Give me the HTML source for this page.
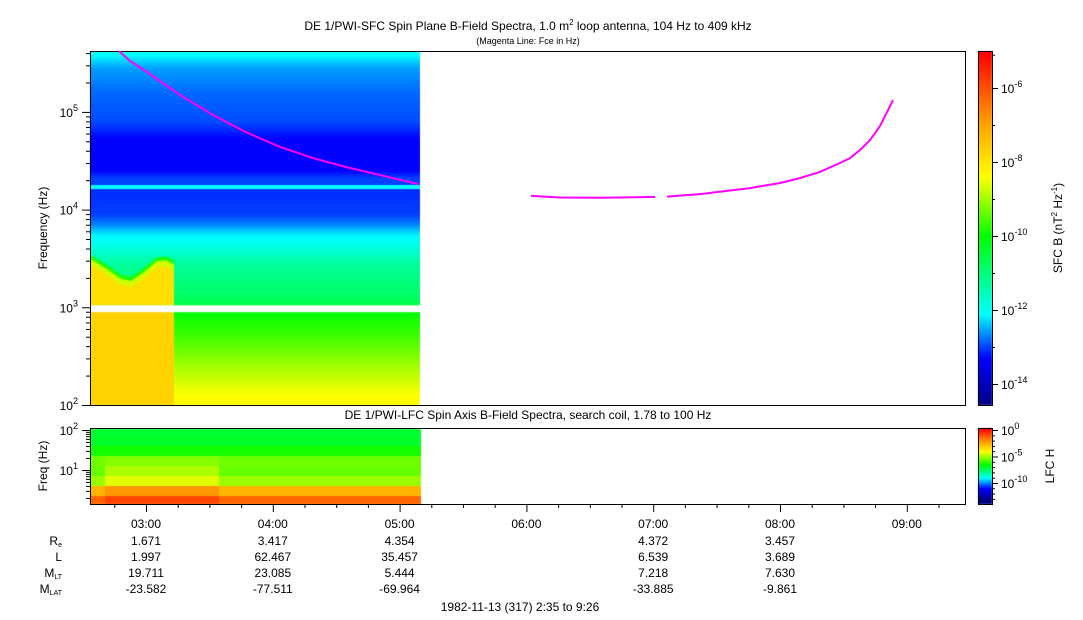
<!DOCTYPE html>
<html><head><meta charset="utf-8"><style>
body{margin:0;background:#fff;width:1083px;height:620px;overflow:hidden;font-family:"Liberation Sans",sans-serif}
#wrap{position:relative;width:1083px;height:620px}
canvas,svg{position:absolute;left:0;top:0}
svg text{font-family:"Liberation Sans",sans-serif;font-size:12px;fill:#000}
</style></head><body>
<div id="wrap">
<canvas id="cv" width="1083" height="620"></canvas>
<svg id="sv" width="1083" height="620">
<text x="528" y="30" text-anchor="middle">DE 1/PWI-SFC  Spin Plane B-Field Spectra, 1.0 m<tspan font-size="8" dy="-5">2</tspan><tspan dy="5"> loop antenna, 104 Hz to 409 kHz</tspan></text>
<text x="528" y="44" text-anchor="middle" style="font-size:9px">(Magenta Line: Fce in Hz)</text>
<text x="528" y="419" text-anchor="middle">DE 1/PWI-LFC  Spin Axis B-Field Spectra, search coil, 1.78 to 100 Hz</text>
<text transform="translate(47,228) rotate(-90)" text-anchor="middle">Frequency (Hz)</text>
<text transform="translate(47,466) rotate(-90)" text-anchor="middle">Freq (Hz)</text>
<text transform="translate(1062,228) rotate(-90)" text-anchor="middle">SFC B (nT<tspan font-size="8" dy="-5">2</tspan><tspan dy="5"> Hz</tspan><tspan font-size="8" dy="-5">-1</tspan><tspan dy="5">)</tspan></text>
<text transform="translate(1054,466) rotate(-90)" text-anchor="middle">LFC H</text>
<text x="520" y="611" text-anchor="middle">1982-11-13 (317) 2:35 to 9:26</text>
<g id="g"></g>
</svg>
</div>
<script>
// ---- data ----
const hourTicks=[3,4,5,6,7,8,9];
const hourLabels=["03:00","04:00","05:00","06:00","07:00","08:00","09:00"];
const ephemNames=["R","L","M","M"];
const ephemSubs=["e","","LT","LAT"];
const ephemHours=[3,4,5,7,8];
const reVals=["1.671","3.417","4.354","4.372","3.457"];
const lVals=["1.997","62.467","35.457","6.539","3.689"];
const mltVals=["19.711","23.085","5.444","7.218","7.630"];
const mlatVals=["-23.582","-77.511","-69.964","-33.885","-9.861"];
// Fce magenta line (hours, Hz)
const fce1T=[2.787,2.874,3.008,3.268,3.528,3.789,4.057,4.317,4.577,4.845,5.145];
const fce1F=[420000,332000,256000,149000,93000,62000,43800,33700,27300,22600,18300];
const fce2T=[6.036,6.265,6.580,7.014];
const fce2F=[13800,13300,13200,13500];
const fce3T=[7.109,7.369,7.763,8.000,8.158,8.315,8.473,8.552,8.631,8.710,8.789,8.891];
const fce3F=[13600,14400,16600,18700,21000,24300,30000,33700,40700,51500,71600,132000];
// SFC spectral profile: log10 Hz -> log10 power
const sfcProfL=[5.61,5.52,5.45,5.2,4.9,4.72,4.4,4.32,4.255,4.25,4.21,4.205,3.95,3.85,3.75,3.6,3.45,3.1,3.0,2.95,2.7,2.4,2.15,2.0];
const sfcProfV=[-12.0,-12.3,-12.55,-12.8,-12.95,-13.3,-13.3,-13.0,-13.0,-12.1,-12.1,-13.1,-13.0,-12.7,-12.2,-11.8,-11.3,-10.8,-10.5,-10.0,-9.6,-9.0,-8.5,-8.3];
// low-frequency burst (time hours, upper edge log10 Hz above 1 kHz)
const burstT=[2.58,2.70,2.80,2.88,2.98,3.08,3.15,3.22];
const burstTop=[3.46,3.36,3.27,3.25,3.34,3.45,3.46,3.42];
const burstVal=-7.9;
const dataEndT=5.16;
// LFC rows: log10 Hz edges and log10 power (quiet / active)
const lfcTop=[2.05,1.85,1.6,1.35,1.1,0.85,0.6,0.35];
const lfcBot=[1.85,1.6,1.35,1.1,0.85,0.6,0.35,0.1];
const lfcQuiet=[-7.0,-6.9,-6.3,-5.4,-5.5,-5.0,-2.6,-1.3];
const lfcActive=[-7.0,-6.9,-6.3,-5.2,-4.8,-4.3,-2.1,-0.8];
const activeT0=2.67, activeT1=3.57;

// ---- scales ----
const X0=90,X1=965;
const tx=t=>146+(t-3)*126.8;
const fy=l=>405-(l-2)*97.7;
const ly=l=>430+(2-l)*40;
const cby=v=>236-(v+10)*37;
const lcy=v=>430-v*5.3;

function cmap(v,st){
  if(v<=st[0][0])return `rgb(${st[0][1]},${st[0][2]},${st[0][3]})`;
  for(let i=1;i<st.length;i++)if(v<=st[i][0]){const a=st[i-1],b=st[i],k=(v-a[0])/(b[0]-a[0]);
    return `rgb(${Math.round(a[1]+(b[1]-a[1])*k)},${Math.round(a[2]+(b[2]-a[2])*k)},${Math.round(a[3]+(b[3]-a[3])*k)})`;}
  const l=st[st.length-1];return `rgb(${l[1]},${l[2]},${l[3]})`;
}
const mainStops=[[-14.6,0,0,130],[-13.3,0,0,255],[-12.1,0,255,255],[-10,0,255,0],[-8.4,255,255,0],[-7,255,165,0],[-5.03,255,0,0]];
const lfcStops=[[-13,0,0,130],[-11,0,0,255],[-9,0,255,255],[-6.5,0,255,0],[-4,255,255,0],[-2.3,255,165,0],[0.3,255,0,0]];
const mainCol=v=>cmap(v,mainStops);
const lfcCol=v=>cmap(v,lfcStops);
function interp(xs,ys,x){if(x<=xs[0])return ys[0];for(let i=1;i<xs.length;i++)if(x<=xs[i])return ys[i-1]+(ys[i]-ys[i-1])*(x-xs[i-1])/(xs[i]-xs[i-1]);return ys[ys.length-1];}
function interpDesc(xs,ys,x){
  if(x>=xs[0])return ys[0];for(let i=1;i<xs.length;i++)if(x>=xs[i])return ys[i-1]+(ys[i]-ys[i-1])*(x-xs[i-1])/(xs[i]-xs[i-1]);return ys[ys.length-1];}

const c=document.getElementById('cv').getContext('2d');
const tStart=(X0-146)/126.8+3;
const xEnd=Math.round(tx(dataEndT));
for(let y=52;y<405;y++){
  const l=2+(405-y-0.5)/97.7;
  c.fillStyle=mainCol(interpDesc(sfcProfL,sfcProfV,l));c.fillRect(X0,y,xEnd-X0,1);
}
for(let x=X0;x<xEnd;x++){
  const t=3+(x-146)/126.8;
  if(t<burstT[burstT.length-1]){
    const top=interp(burstT,burstTop,t);
    c.fillStyle=mainCol(-9.8);c.fillRect(x,fy(top+0.06),1,fy(3.02)-fy(top+0.06));
    c.fillStyle=mainCol(-8.7);c.fillRect(x,fy(top+0.02),1,fy(3.02)-fy(top+0.02));
    c.fillStyle=mainCol(burstVal);c.fillRect(x,fy(top-0.04),1,fy(3.02)-fy(top-0.04));
    c.fillStyle=mainCol(burstVal+0.2);c.fillRect(x,fy(2.97),1,fy(2.0)-fy(2.97));
  }
}
c.fillStyle='#fff';c.fillRect(X0,fy(3.02),xEnd-X0+2,fy(2.95)-fy(3.02));
for(let x=X0;x<xEnd+1;x++){
  const t=3+(x-146)/126.8, act=t>=activeT0&&t<=activeT1;
  for(let r=0;r<lfcTop.length;r++){
    const y0=Math.max(429,ly(lfcTop[r])),y1=Math.min(504,ly(lfcBot[r]));
    c.fillStyle=lfcCol(act?lfcActive[r]:lfcQuiet[r]);c.fillRect(x,y0,1,y1-y0+0.5);
  }
}
for(let y=51;y<405;y++){c.fillStyle=mainCol(-10+(236-y)/37);c.fillRect(978,y,14,1);}
for(let y=428;y<504;y++){c.fillStyle=lfcCol((430-y)/5.3);c.fillRect(978,y,14,1);}

const NS='http://www.w3.org/2000/svg',g=document.getElementById('g');
function el(tag,attrs,txt){const e=document.createElementNS(NS,tag);for(const k in attrs)e.setAttribute(k,attrs[k]);if(txt!=null)e.textContent=txt;g.appendChild(e);return e;}
function ln(x1,y1,x2,y2,name){const e=el('line',{x1,y1,x2,y2,stroke:'#000','stroke-width':1});
  
  return e;}
function box(x,y,w,h,name){const e=el('rect',{x:x+.5,y:y+.5,width:w,height:h,fill:'none',stroke:'#000'});
  
  }
box(X0,51,X1-X0,354,'main-plot-frame');
box(X0,428,X1-X0,76,'lfc-plot-frame');
box(978,51,14,354,'main-colorbar-frame');
box(978,428,14,76,'lfc-colorbar-frame');
function poly(ts,fs,name){let d='';ts.forEach((t,i)=>{d+=(i?'L':'M')+tx(t).toFixed(1)+','+fy(Math.log10(fs[i])).toFixed(1);});
  const p=el('path',{d,fill:'none',stroke:'#ff00ff','stroke-width':2,'stroke-linejoin':'round'});
  
  }
poly(fce1T,fce1F,'fce-line-1');poly(fce2T,fce2F,'fce-line-2');poly(fce3T,fce3F,'fce-line-3');
for(let d=2;d<=5;d++){
  ln(X0-8,fy(d)+.5,X0,fy(d)+.5,'y-major-tick');
  const t=el('text',{x:X0-12,y:fy(d)+5,'text-anchor':'end'});t.innerHTML='10<tspan font-size="9" dy="-6">'+d+'</tspan>';
  
  
  for(let m=2;m<=9;m++){const l=d+Math.log10(m);if(l<5.61)ln(X0-4,fy(l)+.5,X0,fy(l)+.5,'y-minor-tick');}
}
[1,2].forEach(d=>{ln(X0-8,ly(d)+.5,X0,ly(d)+.5,'lfc-y-major-tick');
  const t=el('text',{x:X0-12,y:ly(d)+5,'text-anchor':'end'});t.innerHTML='10<tspan font-size="9" dy="-6">'+d+'</tspan>';
  
  });
for(let d=0;d<2;d++)for(let m=2;m<=9;m++){const l=d+Math.log10(m);if(l>0.25)ln(X0-4,ly(l)+.5,X0,ly(l)+.5,'lfc-y-minor-tick');}
for(let q=Math.ceil(tStart*4);q/4<9.45;q++){const t=q/4,x=tx(t)+.5;if(x>X1)break;const maj=q%4==0;
  ln(x,504,x,maj?512:508,'time-tick');}
hourTicks.forEach((h,i)=>{const t=el('text',{x:tx(h),y:528,'text-anchor':'middle'},hourLabels[i]);
  
  });
const rows=[reVals,lVals,mltVals,mlatVals],rowY=[545,561,577,593];
rows.forEach((vals,r)=>{
  const n=el('text',{x:62,y:rowY[r],'text-anchor':'end'});n.innerHTML=ephemNames[r]+(ephemSubs[r]?'<tspan font-size="7" dy="2">'+ephemSubs[r]+'</tspan>':'');
  
  
  vals.forEach((v,i)=>{const t=el('text',{x:tx(ephemHours[i]),y:rowY[r],'text-anchor':'middle'},v);
    
    });
});
[-6,-8,-10,-12,-14].forEach(v=>{const y=cby(v);ln(992,y+.5,998,y+.5,'colorbar-tick');
  const t=el('text',{x:1001,y:y+5});t.innerHTML='10<tspan font-size="9" dy="-6">'+v+'</tspan>';
  
  });
[-7,-9,-11,-13,-5.1].forEach(v=>ln(992,cby(v)+.5,995,cby(v)+.5,'colorbar-minor-tick'));
[0,-5,-10].forEach(v=>{const y=lcy(v);ln(992,y+.5,998,y+.5,'lfc-colorbar-tick');
  const t=el('text',{x:1001,y:y+5});t.innerHTML='10<tspan font-size="9" dy="-6">'+v+'</tspan>';
  
  });
for(let v=-13;v<=0;v++)ln(992,lcy(v)+.5,995,lcy(v)+.5,'lfc-colorbar-minor-tick');
</script>
</body></html>
